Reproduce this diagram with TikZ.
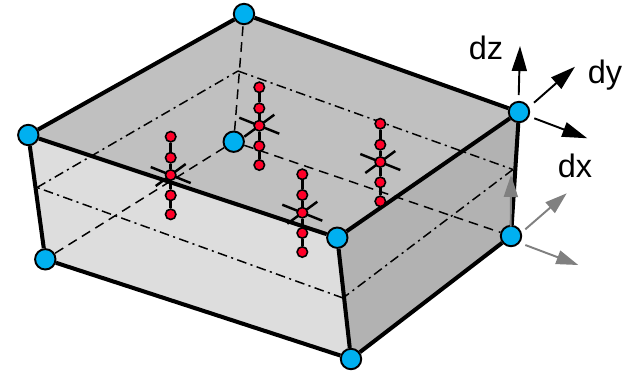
\documentclass[tikz,border=0pt]{standalone}
\usepackage{fontspec}
\setmainfont{Liberation Sans}
\usetikzlibrary{arrows.meta, calc, backgrounds}
\definecolor{topgray}{RGB}{192, 192, 192}
\definecolor{frontgray}{RGB}{221, 221, 221}
\definecolor{sidegray}{RGB}{178, 178, 178}
\definecolor{nodeblue}{RGB}{0, 176, 240}
\definecolor{pointred}{RGB}{255, 0, 40}
\definecolor{ghostgray}{RGB}{128, 128, 128}

\begin{document}
\begin{tikzpicture}[x=0.02cm, y=-0.02cm,
    vertex/.style={draw, circle, fill=nodeblue, line width=1.1pt, minimum size=20.5*0.567pt, inner sep=0pt},
    gauss/.style={draw, circle, fill=pointred, line width=0.9pt, minimum size=10.5*0.567pt, inner sep=0pt},
    edge/.style={line width=2.3pt},
    hidden/.style={line width=0.85pt, dash pattern=on 5.5pt off 3.5pt},
    section/.style={line width=0.85pt, dash pattern=on 5.5pt off 2.5pt on 1.2pt off 2.5pt},
    column/.style={line width=1.4pt},
    crossline/.style={line width=1.4pt},
    dof/.style={line width=1.1pt, -{Triangle[length=0.5cm, width=0.3cm]}},
    ghostdof/.style={line width=1.1pt, ghostgray, -{Triangle[length=0.44cm, width=0.28cm]}},
    label/.style={font=\fontsize{18.5pt}{20pt}\selectfont}]

\useasboundingbox (0,0) rectangle (631,373);

% corners
\node[vertex] (a) at (28.3,135) {};
\node[vertex] (b) at (244,14) {};
\node[vertex] (c) at (519,112) {};
\node[vertex] (d) at (337.3,237.7) {};
\node[vertex] (e) at (45.3,259.3) {};
\node[vertex] (f) at (351,359) {};
\node[vertex] (g) at (511,236) {};
\node[vertex] (h) at (233.7,141.7) {};

% columns of points
\node[gauss] (g1a) at (170.7,136.7) {};
\node[gauss] (g1b) at (170.7,157.7) {};
\node[gauss] (g1c) at (170.7,175) {};
\node[gauss] (g1d) at (170.7,195.3) {};
\node[gauss] (g1e) at (170.7,214.3) {};
\node[gauss] (g2a) at (259.3,87.3) {};
\node[gauss] (g2b) at (259.3,108.3) {};
\node[gauss] (g2c) at (259.3,125.7) {};
\node[gauss] (g2d) at (259.3,146) {};
\node[gauss] (g2e) at (259.3,165) {};
\node[gauss] (g3a) at (302.3,174.3) {};
\node[gauss] (g3b) at (302.3,195) {};
\node[gauss] (g3c) at (302.3,212.7) {};
\node[gauss] (g3d) at (302.3,233) {};
\node[gauss] (g3e) at (302.3,252) {};
\node[gauss] (g4a) at (380.3,123.7) {};
\node[gauss] (g4b) at (380.3,144.7) {};
\node[gauss] (g4c) at (380.3,162) {};
\node[gauss] (g4d) at (380.3,182.3) {};
\node[gauss] (g4e) at (380.3,201.3) {};

\begin{scope}[on background layer]
% faces
\fill[topgray] (a.center) -- (b.center) -- (c.center) -- (d.center) -- cycle;
\fill[frontgray] (a.center) -- (d.center) -- (f.center) -- (e.center) -- cycle;
\fill[sidegray] (d.center) -- (c.center) -- (g.center) -- (f.center) -- cycle;

% hidden edges
\draw[hidden] (h) -- (b);
\draw[hidden] (h) -- (e);
\draw[hidden] (h) -- (g);

% mid section
\coordinate (s1) at (37,187.5);
\coordinate (s2) at (238,71);
\coordinate (s3) at (513,169.5);
\coordinate (s4) at (343,298);
\draw[section] (s1) -- (s2);
\draw[section] (s2) -- (s3);
\draw[section] (s3) -- (s4);
\draw[section] (s4) -- (s1);

% visible edges
\draw[edge] (a) -- (b);
\draw[edge] (b) -- (c);
\draw[edge] (c) -- (d);
\draw[edge] (d) -- (a);
\draw[edge] (a) -- (e);
\draw[edge] (e) -- (f);
\draw[edge] (f) -- (d);
\draw[edge] (f) -- (g);
\draw[edge] (g) -- (c);

\draw[column] (g1a) -- (g1b) -- (g1c) -- (g1d) -- (g1e);
\draw[column] (g2a) -- (g2b) -- (g2c) -- (g2d) -- (g2e);
\draw[column] (g3a) -- (g3b) -- (g3c) -- (g3d) -- (g3e);
\draw[column] (g4a) -- (g4b) -- (g4c) -- (g4d) -- (g4e);

\draw[crossline] ($(g1c)+(-20,-8)$) -- ($(g1c)+(20,8)$);
\draw[crossline] ($(g1c)+(-15,11)$) -- ($(g1c)+(15,-11)$);
\draw[crossline] ($(g2c)+(-20,-8)$) -- ($(g2c)+(20,8)$);
\draw[crossline] ($(g2c)+(-15,11)$) -- ($(g2c)+(15,-11)$);
\draw[crossline] ($(g3c)+(-20,-8)$) -- ($(g3c)+(20,8)$);
\draw[crossline] ($(g3c)+(-15,11)$) -- ($(g3c)+(15,-11)$);
\draw[crossline] ($(g4c)+(-20,-8)$) -- ($(g4c)+(20,8)$);
\draw[crossline] ($(g4c)+(-15,11)$) -- ($(g4c)+(15,-11)$);
\end{scope}

% degrees of freedom
\coordinate (cz) at (518.7,95);
\coordinate (cy) at (534,102.7);
\coordinate (cx) at (534.3,118.3);
\coordinate (tz) at (520,46);
\coordinate (ty) at (575,66.7);
\coordinate (tx) at (587.3,138.3);
\draw[dof] (cz) -- (tz);
\draw[dof] (cy) -- (ty);
\draw[dof] (cx) -- (tx);

\coordinate (gz) at (510.7,226.7);
\coordinate (gy) at (525.3,229.3);
\coordinate (gx) at (525.3,245);
\coordinate (uz) at (511,175);
\coordinate (uy) at (566.7,193.3);
\coordinate (ux) at (578.3,265);
\draw[ghostdof] (gz) -- (uz);
\draw[ghostdof] (gy) -- (uy);
\draw[ghostdof] (gx) -- (ux);

\node[label] (dz) at (486,47.7) {dz};
\node[label] (dy) at (605,75) {dy};
\node[label] (dx) at (575,165.7) {dx};
\end{tikzpicture}
\end{document}
